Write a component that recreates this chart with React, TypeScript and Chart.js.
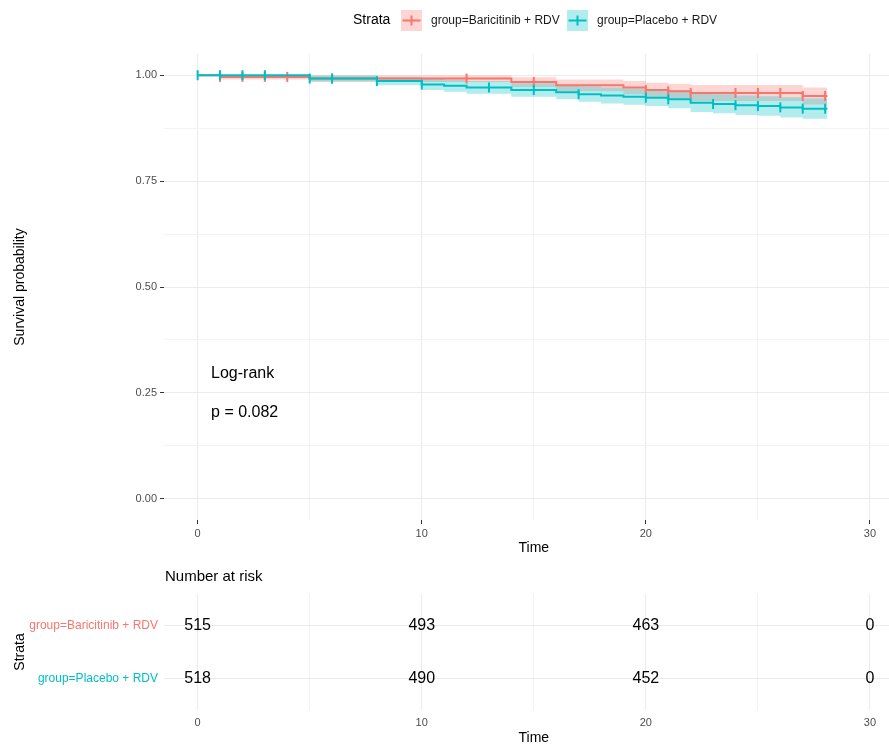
import React, { useEffect, useRef } from "react";
import { Chart, registerables } from "chart.js";
Chart.register(...registerables);

const FONT = "'Liberation Sans', Arial, Helvetica, sans-serif";

// ---------------- data ----------------
const strata = ["group=Baricitinib + RDV", "group=Placebo + RDV"];
const colors = ["#F8766D", "#00BFC4"];
const bandColors = ["rgba(248,118,109,0.3)", "rgba(0,191,196,0.3)"];

const baricTime = [0, 1, 5, 14, 16, 19, 20, 21, 22, 27, 28.1];
const baricSurv = [1.0, 0.996, 0.992, 0.984, 0.976, 0.971, 0.965, 0.962, 0.958, 0.951, 0.951];
const baricLower = [1.0, 0.990, 0.984, 0.972, 0.962, 0.955, 0.948, 0.944, 0.939, 0.931, 0.931];
const baricUpper = [1.0, 1.0, 0.999, 0.995, 0.990, 0.986, 0.982, 0.980, 0.977, 0.971, 0.971];
const baricCensor = [1, 2, 3, 4, 6, 12, 15, 20, 21, 22, 24, 25, 26, 27, 28];

const placTime = [0, 5, 8, 10, 11, 12, 14, 16, 17, 18, 19, 20, 21, 22, 23, 24, 25, 26, 27, 28.1];
const placSurv = [1.0, 0.992, 0.986, 0.978, 0.975, 0.971, 0.965, 0.960, 0.955, 0.952, 0.949, 0.947, 0.943, 0.935, 0.932, 0.929, 0.927, 0.924, 0.921, 0.921];
const placLower = [1.0, 0.985, 0.976, 0.965, 0.961, 0.956, 0.949, 0.943, 0.937, 0.933, 0.930, 0.927, 0.922, 0.913, 0.910, 0.906, 0.904, 0.900, 0.897, 0.897];
const placUpper = [1.0, 0.999, 0.996, 0.991, 0.989, 0.986, 0.981, 0.977, 0.973, 0.971, 0.968, 0.967, 0.964, 0.957, 0.955, 0.952, 0.950, 0.948, 0.945, 0.945];
const placCensor = [0, 1, 2, 3, 5, 6, 8, 10, 13, 15, 17, 20, 21, 23, 24, 25, 26, 27, 28];

const riskTimes = [0, 10, 20, 30];
const baricRisk = [515, 493, 463, 0];
const placRisk = [518, 490, 452, 0];

const xTicks = [0, 5, 10, 15, 20, 25, 30];
const xTickLabels = ["0", "", "10", "", "20", "", "30"];
const yTicks = [0, 0.125, 0.25, 0.375, 0.5, 0.625, 0.75, 0.875, 1.0];
const yTickLabels = ["0.00", "", "0.25", "", "0.50", "", "0.75", "", "1.00"];

const testLabel = "Log-rank";
const pValueLabel = "p = 0.082";

// ---------------- helpers ----------------
const pts = (xs: number[], ys: number[]) => xs.map((x, i) => ({ x, y: ys[i] }));
const survAt = (times: number[], surv: number[], t: number) => {
  let v = surv[0];
  for (let i = 0; i < times.length; i++) if (times[i] <= t) v = surv[i];
  return v;
};
const isMajorX = (v: number) => v % 10 === 0;
const isMajorY = (v: number) => Math.abs(v * 4 - Math.round(v * 4)) < 1e-9;

const topDecor = {
  id: "topDecor",
  afterDraw(chart: any) {
    const { ctx } = chart;
    const x = chart.scales.x;
    const y = chart.scales.y;
    ctx.save();
    ctx.fillStyle = "#000";
    ctx.textBaseline = "middle";
    ctx.textAlign = "left";
    ctx.font = `16px ${FONT}`;
    ctx.fillText(testLabel, x.getPixelForValue(0.6), y.getPixelForValue(0.295));
    ctx.fillText(pValueLabel, x.getPixelForValue(0.6), y.getPixelForValue(0.203));
    ctx.font = `14px ${FONT}`;
    ctx.textAlign = "center";
    ctx.fillText("Time", x.getPixelForValue(15), 548);
    // legend
    ctx.textAlign = "left";
    ctx.font = `14px ${FONT}`;
    ctx.fillStyle = "#000";
    ctx.fillText("Strata", 353, 20.5);
    const keys = [
      { bx: 401, lx: 431 },
      { bx: 567, lx: 597 },
    ];
    keys.forEach((k, i) => {
      ctx.fillStyle = bandColors[i];
      ctx.fillRect(k.bx, 10, 21, 21);
      ctx.strokeStyle = colors[i];
      ctx.lineWidth = 2;
      ctx.beginPath();
      ctx.moveTo(k.bx + 1.5, 20.5);
      ctx.lineTo(k.bx + 19.5, 20.5);
      ctx.moveTo(k.bx + 10.5, 15.5);
      ctx.lineTo(k.bx + 10.5, 25.5);
      ctx.stroke();
      ctx.fillStyle = "#1A1A1A";
      ctx.font = `12px ${FONT}`;
      ctx.fillText(strata[i], k.lx, 20.5);
    });
    ctx.restore();
  },
};

const botDecor = {
  id: "botDecor",
  afterDraw(chart: any) {
    const { ctx } = chart;
    const x = chart.scales.x;
    ctx.save();
    ctx.fillStyle = "#000";
    ctx.textBaseline = "middle";
    ctx.textAlign = "left";
    ctx.font = `15px ${FONT}`;
    ctx.fillText("Number at risk", chart.chartArea.left + 1, 17);
    ctx.textAlign = "center";
    ctx.font = `14px ${FONT}`;
    ctx.fillText("Time", x.getPixelForValue(15), 178);
    ctx.font = `16px ${FONT}`;
    const risks = [baricRisk, placRisk];
    risks.forEach((arr, i) => {
      const meta = chart.getDatasetMeta(i);
      meta.data.forEach((el: any, j: number) => {
        ctx.fillText(String(arr[j]), el.x, el.y);
      });
    });
    ctx.restore();
  },
};

const gridColor = (ctx: any) =>
  ctx.tick && isMajorX(ctx.tick.value) ? "#EBEBEB" : "#F3F3F3";

const fitX = (h: number) => (s: any) => {
  s.height = h;
  s.paddingLeft = 0;
  s.paddingRight = 0;
};
const fitY = (w: number) => (s: any) => {
  s.width = w;
  s.paddingTop = 0;
  s.paddingBottom = 0;
};

export default function App() {
  const topRef = useRef<HTMLCanvasElement>(null);
  const botRef = useRef<HTMLCanvasElement>(null);

  useEffect(() => {
    document.body.style.margin = "0";
    Chart.defaults.font.family = FONT;

    const bandBase = { borderWidth: 0, borderColor: "rgba(0,0,0,0)", pointRadius: 0, stepped: "before" as const };
    const c1 = new Chart(topRef.current as HTMLCanvasElement, {
      type: "line",
      data: {
        datasets: [
          { ...bandBase, label: "bl", data: pts(baricTime, baricLower), fill: false, order: 6 },
          { ...bandBase, label: "bu", data: pts(baricTime, baricUpper), fill: "-1", backgroundColor: bandColors[0], order: 6 },
          { ...bandBase, label: "pl", data: pts(placTime, placLower), fill: false, order: 5 },
          { ...bandBase, label: "pu", data: pts(placTime, placUpper), fill: "-1", backgroundColor: bandColors[1], order: 5 },
          { label: strata[0], data: pts(baricTime, baricSurv), borderColor: colors[0], borderWidth: 2, pointRadius: 0, stepped: "before", fill: false, order: 4 },
          { label: strata[0] + " censor", data: baricCensor.map((t) => ({ x: t, y: survAt(baricTime, baricSurv, t) })), showLine: false, pointStyle: "line", rotation: 90, pointRadius: 5, borderColor: colors[0], backgroundColor: colors[0], pointBorderWidth: 2, order: 3 },
          { label: strata[1], data: pts(placTime, placSurv), borderColor: colors[1], borderWidth: 2, pointRadius: 0, stepped: "before", fill: false, order: 2 },
          { label: strata[1] + " censor", data: placCensor.map((t) => ({ x: t, y: survAt(placTime, placSurv, t) })), showLine: false, pointStyle: "line", rotation: 90, pointRadius: 5, borderColor: colors[1], backgroundColor: colors[1], pointBorderWidth: 2, order: 1 },
        ] as any,
      },
      options: {
        responsive: false,
        animation: false,
        layout: { autoPadding: false, padding: { top: 54, left: 0, right: 0, bottom: 0 } },
        plugins: { legend: { display: false }, tooltip: { enabled: false } },
        scales: {
          x: {
            type: "linear",
            min: -1.5,
            max: 30.85,
            afterBuildTicks: (s: any) => { s.ticks = xTicks.map((v) => ({ value: v })); },
            afterFit: fitX(40),
            ticks: { autoSkip: false, maxRotation: 0, padding: 3, color: "#4D4D4D", font: { size: 11 }, callback: (_v: any, i: number) => xTickLabels[i] },
            grid: { color: gridColor, lineWidth: 1, drawTicks: true, tickLength: 4, tickWidth: 1, tickColor: (c: any) => (c.tick && isMajorX(c.tick.value) ? "#333" : "rgba(0,0,0,0)") },
            border: { display: false },
          },
          y: {
            type: "linear",
            min: -0.05,
            max: 1.05,
            afterBuildTicks: (s: any) => { s.ticks = yTicks.map((v) => ({ value: v })); },
            afterFit: fitY(164),
            ticks: { autoSkip: false, padding: 3, color: "#4D4D4D", font: { size: 11 }, callback: (_v: any, i: number) => yTickLabels[i] },
            grid: {
              color: (c: any) => (c.tick && isMajorY(c.tick.value) ? "#EBEBEB" : "#F3F3F3"),
              lineWidth: 1, drawTicks: true, tickLength: 4, tickWidth: 1,
              tickColor: (c: any) => (c.tick && isMajorY(c.tick.value) ? "#333" : "rgba(0,0,0,0)"),
            },
            border: { display: false },
            title: { display: true, text: "Survival probability", color: "#000", font: { size: 14 }, padding: { top: 12, bottom: 0 } },
          },
        },
      } as any,
      plugins: [topDecor],
    });

    const c2 = new Chart(botRef.current as HTMLCanvasElement, {
      type: "scatter",
      data: {
        datasets: [
          { label: strata[0], data: riskTimes.map((t) => ({ x: t, y: 1 })), pointRadius: 0 },
          { label: strata[1], data: riskTimes.map((t) => ({ x: t, y: 2 })), pointRadius: 0 },
        ],
      },
      options: {
        responsive: false,
        animation: false,
        layout: { autoPadding: false, padding: { top: 34, left: 0, right: 0, bottom: 0 } },
        plugins: { legend: { display: false }, tooltip: { enabled: false } },
        scales: {
          x: {
            type: "linear",
            min: -1.5,
            max: 30.85,
            afterBuildTicks: (s: any) => { s.ticks = xTicks.map((v) => ({ value: v })); },
            afterFit: fitX(34),
            ticks: { autoSkip: false, maxRotation: 0, padding: 6, color: "#4D4D4D", font: { size: 11 }, callback: (_v: any, i: number) => xTickLabels[i] },
            grid: { color: gridColor, lineWidth: 1, drawTicks: false },
            border: { display: false },
          },
          y: {
            type: "linear",
            min: 0.4,
            max: 2.6,
            reverse: true,
            afterBuildTicks: (s: any) => { s.ticks = [1, 2].map((v) => ({ value: v })); },
            afterFit: fitY(164),
            ticks: { autoSkip: false, padding: 6, color: (c: any) => colors[c.index] || "#000", font: { size: 12 }, callback: (_v: any, i: number) => strata[i] },
            grid: { color: "#EBEBEB", lineWidth: 1, drawTicks: false },
            border: { display: false },
            title: { display: true, text: "Strata", color: "#000", font: { size: 14 }, padding: { top: 12, bottom: 0 } },
          },
        },
      } as any,
      plugins: [botDecor],
    });

    return () => {
      c1.destroy();
      c2.destroy();
    };
  }, []);

  return (
    <div style={{ width: 889, height: 744, background: "#fff" }}>
      <canvas ref={topRef} width={889} height={560} style={{ display: "block" }} />
      <canvas ref={botRef} width={889} height={184} style={{ display: "block" }} />
    </div>
  );
}
